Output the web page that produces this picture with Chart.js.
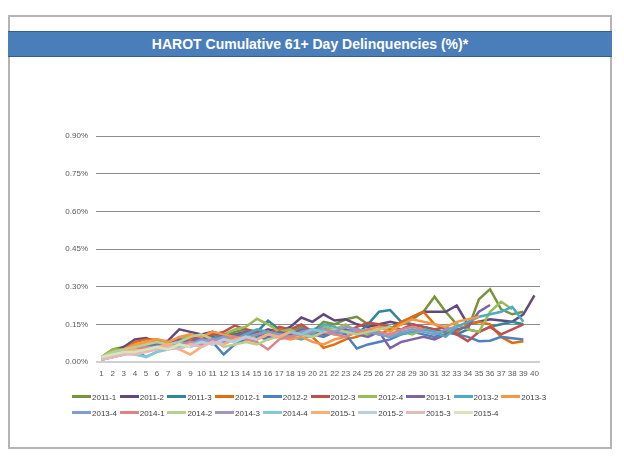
<!DOCTYPE html>
<html><head><meta charset="utf-8">
<script src="https://cdn.jsdelivr.net/npm/chart.js@4/dist/chart.umd.min.js"></script>
<style>
html,body{margin:0;padding:0;background:#fff;}
#wrap{position:relative;width:624px;height:459px;overflow:hidden;}
#frame{position:absolute;left:8px;top:15px;width:600px;height:430px;border:2px solid #b4b4b4;}
#band{position:absolute;left:8px;top:31px;width:604px;height:24px;background:#4a7ebb;border-top:1px solid #385d8a;border-bottom:1px solid #385d8a;color:#fff;font:bold 14px 'Liberation Sans',Arial,sans-serif;text-align:center;line-height:24px;}
canvas{position:absolute;left:0;top:0;}
.leg{position:absolute;height:10px;line-height:10px;font:8px 'Liberation Sans',Arial,sans-serif;color:#404040;white-space:nowrap;}
.leg i{display:inline-block;width:19px;height:3px;vertical-align:middle;margin-right:1px;position:relative;top:-1px;}
</style></head>
<body>
<div id="wrap">
<div id="frame"></div>
<div id="band">HAROT Cumulative 61+ Day Delinquencies (%)*</div>
<canvas id="c" width="624" height="459"></canvas>
<div id="legend"></div>
</div>
<script>
const categories = ['1','2','3','4','5','6','7','8','9','10','11','12','13','14','15','16','17','18','19','20','21','22','23','24','25','26','27','28','29','30','31','32','33','34','35','36','37','38','39','40'];
const yTicks = [0, 0.15, 0.30, 0.45, 0.60, 0.75, 0.90];
const seriesNames = ['2011-1','2011-2','2011-3','2012-1','2012-2','2012-3','2012-4','2013-1','2013-2','2013-3','2013-4','2014-1','2014-2','2014-3','2014-4','2015-1','2015-2','2015-3','2015-4'];

const s2011_1 = [0.02,0.05,0.06,0.07,0.06,0.07,0.08,0.09,0.08,0.10,0.11,0.10,0.12,0.13,0.12,0.11,0.13,0.12,0.14,0.12,0.16,0.15,0.17,0.18,0.15,0.14,0.13,0.16,0.17,0.20,0.26,0.20,0.15,0.13,0.25,0.29,0.21,0.19,0.20];
const s2011_2 = [0.01,0.04,0.06,0.09,0.095,0.08,0.085,0.13,0.12,0.11,0.12,0.10,0.11,0.12,0.11,0.13,0.12,0.14,0.177,0.16,0.19,0.165,0.17,0.15,0.14,0.15,0.16,0.15,0.18,0.20,0.20,0.20,0.225,0.15,0.16,0.17,0.165,0.16,0.19,0.265];
const s2011_3 = [0.01,0.03,0.05,0.06,0.07,0.06,0.08,0.07,0.09,0.08,0.10,0.09,0.11,0.10,0.12,0.165,0.13,0.11,0.12,0.13,0.14,0.12,0.13,0.11,0.15,0.20,0.207,0.16,0.15,0.14,0.13,0.12,0.11,0.13,0.12,0.14,0.15,0.16,0.15];
const s2012_1 = [0.01,0.03,0.05,0.08,0.09,0.09,0.08,0.07,0.09,0.10,0.12,0.11,0.10,0.12,0.11,0.10,0.13,0.12,0.11,0.10,0.056,0.07,0.09,0.10,0.12,0.11,0.13,0.16,0.18,0.20,0.15,0.13,0.12,0.15,0.16,0.15,0.10,0.076,0.083];
const s2012_2 = [0.01,0.02,0.04,0.05,0.06,0.07,0.06,0.08,0.07,0.09,0.08,0.03,0.07,0.09,0.10,0.09,0.11,0.10,0.12,0.11,0.10,0.12,0.11,0.054,0.07,0.08,0.09,0.11,0.12,0.11,0.10,0.12,0.11,0.10,0.083,0.085,0.10,0.095,0.09];
const s2012_3 = [0.01,0.03,0.04,0.06,0.07,0.08,0.07,0.09,0.10,0.09,0.11,0.12,0.145,0.13,0.12,0.11,0.14,0.13,0.15,0.12,0.11,0.13,0.12,0.14,0.156,0.15,0.14,0.13,0.15,0.14,0.13,0.14,0.11,0.083,0.12,0.14,0.11,0.13,0.15];
const s2012_4 = [0.02,0.05,0.05,0.06,0.07,0.08,0.07,0.09,0.11,0.10,0.09,0.11,0.13,0.14,0.172,0.15,0.12,0.13,0.11,0.12,0.14,0.13,0.15,0.12,0.11,0.13,0.14,0.12,0.11,0.13,0.12,0.11,0.15,0.13,0.12,0.20,0.24,0.21];
const s2013_1 = [0.01,0.03,0.04,0.05,0.06,0.08,0.07,0.09,0.08,0.10,0.09,0.11,0.10,0.12,0.11,0.10,0.12,0.11,0.13,0.12,0.11,0.13,0.12,0.11,0.10,0.12,0.055,0.08,0.09,0.10,0.09,0.11,0.13,0.14,0.20,0.227];
const s2013_2 = [0.01,0.02,0.03,0.05,0.02,0.04,0.06,0.07,0.08,0.07,0.09,0.10,0.09,0.11,0.13,0.12,0.11,0.10,0.09,0.11,0.15,0.14,0.12,0.13,0.12,0.11,0.10,0.11,0.12,0.13,0.12,0.10,0.14,0.16,0.18,0.19,0.20,0.22,0.16];
const s2013_3 = [0.01,0.03,0.05,0.07,0.08,0.09,0.08,0.10,0.11,0.10,0.12,0.11,0.10,0.09,0.11,0.12,0.10,0.09,0.10,0.08,0.07,0.09,0.10,0.12,0.13,0.14,0.12,0.15,0.17,0.16,0.15,0.14,0.16,0.17,0.18];
const s2013_4 = [0.01,0.03,0.04,0.05,0.06,0.06,0.07,0.08,0.07,0.09,0.08,0.10,0.09,0.10,0.11,0.12,0.11,0.10,0.12,0.13,0.12,0.11,0.12,0.13,0.12,0.11,0.10,0.12,0.13,0.12,0.11,0.13,0.14];
const s2014_1 = [0.01,0.02,0.04,0.05,0.06,0.05,0.07,0.06,0.08,0.07,0.08,0.09,0.10,0.09,0.08,0.05,0.09,0.10,0.11,0.10,0.12,0.11,0.10,0.12,0.13,0.12,0.11,0.13,0.14,0.13];
const s2014_2 = [0.02,0.04,0.05,0.06,0.07,0.08,0.07,0.08,0.10,0.11,0.09,0.06,0.07,0.08,0.07,0.09,0.10,0.12,0.11,0.10,0.12,0.13,0.12,0.11,0.12,0.13,0.14];
const s2014_3 = [0.01,0.02,0.03,0.04,0.05,0.06,0.05,0.07,0.06,0.08,0.09,0.08,0.09,0.10,0.09,0.11,0.10,0.12,0.11,0.12,0.13,0.12,0.14,0.13];
const s2014_4 = [0.01,0.03,0.04,0.03,0.02,0.04,0.05,0.06,0.07,0.08,0.07,0.09,0.08,0.10,0.09,0.11,0.10,0.12,0.11,0.13,0.12];
const s2015_1 = [0.01,0.02,0.04,0.05,0.04,0.06,0.07,0.05,0.03,0.06,0.08,0.07,0.09,0.10,0.09,0.11,0.10,0.12];
const s2015_2 = [0.01,0.02,0.03,0.04,0.05,0.06,0.05,0.07,0.06,0.08,0.07,0.09,0.08,0.10,0.09];
const s2015_3 = [0.01,0.02,0.03,0.03,0.04,0.05,0.06,0.05,0.07,0.06,0.08,0.07];
const s2015_4 = [0.02,0.03,0.04,0.04,0.05,0.06,0.05,0.07,0.06];

const seriesValues = [s2011_1,s2011_2,s2011_3,s2012_1,s2012_2,s2012_3,s2012_4,s2013_1,s2013_2,s2013_3,s2013_4,s2014_1,s2014_2,s2014_3,s2014_4,s2015_1,s2015_2,s2015_3,s2015_4];
const seriesColors = ['#77933c','#604a7b','#31859c','#e46c0a','#4f81bd','#c0504d','#9bbb59','#8064a2','#4bacc6','#f79646','#7f9ed0','#dc8684','#b9cf8f','#a394c2','#86c8da','#f9ae78','#b9cde5','#e6b9b8','#d7e4bd'];

const FONT = "'Liberation Sans', Arial, sans-serif";
const datasets = seriesNames.map((n, i) => ({
  label: n,
  data: seriesValues[i],
  borderColor: seriesColors[i],
  backgroundColor: seriesColors[i],
  borderWidth: 2.5,
  pointRadius: 0,
  pointHoverRadius: 0,
  tension: 0,
  fill: false,
  order: seriesNames.length - i
}));

new Chart(document.getElementById('c'), {
  type: 'line',
  data: { labels: categories, datasets },
  options: {
    responsive: false,
    animation: false,
    devicePixelRatio: 1,
    layout: { padding: { left: 40, right: 84, top: 136, bottom: 77 } },
    plugins: { legend: { display: false }, tooltip: { enabled: false }, title: { display: false } },
    scales: {
      x: {
        offset: true,
        grid: { display: false, drawTicks: false },
        border: { display: false },
        ticks: { autoSkip: false, maxRotation: 0, minRotation: 0, padding: 7, color: '#595959', font: { family: FONT, size: 8 } },
        afterFit(s) { s.height = 20; }
      },
      y: {
        min: 0, max: 0.9,
        afterBuildTicks(s) { s.ticks = yTicks.map(v => ({ value: v })); },
        grid: {
          drawTicks: false,
          color: c => (c.tick && c.tick.value === 0) ? '#d0d0d0' : '#8c8c8c',
          lineWidth: c => (c.tick && c.tick.value === 0) ? 2 : 1
        },
        border: { display: false },
        ticks: { padding: 8, color: '#595959', font: { family: FONT, size: 8 }, callback: v => v.toFixed(2) + '%' },
        afterFit(s) { s.width = 56; }
      }
    }
  }
});

// HTML legend built from the series names and colours
const leg = document.getElementById('legend');
const rowTops = [393, 409];
seriesNames.forEach((n, i) => {
  const row = i < 10 ? 0 : 1;
  const col = i < 10 ? i : i - 10;
  const d = document.createElement('div');
  d.className = 'leg';
  d.style.left = (72 + col * 47.7) + 'px';
  d.style.top = rowTops[row] + 'px';
  d.innerHTML = '<i style="background:' + seriesColors[i] + '"></i>' + n;
  leg.appendChild(d);
});
</script>
</body></html>
